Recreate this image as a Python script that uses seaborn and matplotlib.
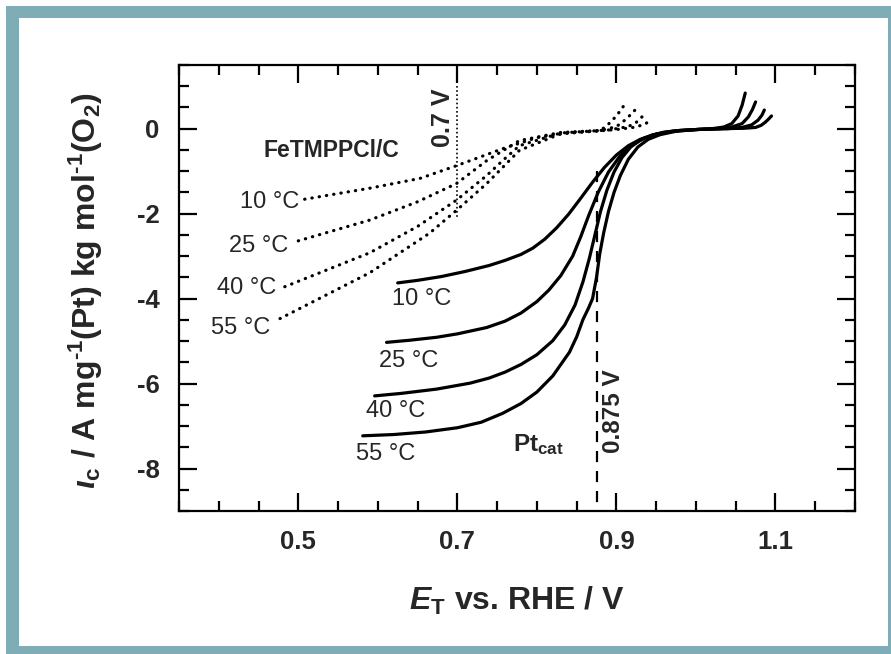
import matplotlib
matplotlib.use("Agg")
import matplotlib.pyplot as plt
from matplotlib.patches import Rectangle
from matplotlib.ticker import MultipleLocator
import seaborn as sns

# Pt_cat, solid curves (E / V, i / A mg-1 kg mol-1)
pt_10_x = [0.625, 0.65, 0.68, 0.71, 0.74, 0.76, 0.78, 0.795, 0.81, 0.825, 0.84, 0.855, 0.87, 0.885, 0.90, 0.915, 0.93, 0.945, 0.96, 0.98, 1.00, 1.02, 1.035, 1.045, 1.053, 1.058, 1.062]
pt_10_y = [-3.63, -3.57, -3.48, -3.36, -3.22, -3.10, -2.96, -2.81, -2.60, -2.33, -2.01, -1.64, -1.26, -0.91, -0.62, -0.40, -0.25, -0.15, -0.09, -0.04, -0.02, 0.0, 0.04, 0.12, 0.30, 0.55, 0.84]

pt_25_x = [0.611, 0.64, 0.674, 0.70, 0.737, 0.76, 0.78, 0.80, 0.815, 0.83, 0.845, 0.855, 0.865, 0.877, 0.89, 0.905, 0.92, 0.935, 0.95, 0.97, 1.00, 1.03, 1.045, 1.058, 1.066, 1.071, 1.075]
pt_25_y = [-5.03, -4.98, -4.91, -4.83, -4.68, -4.53, -4.34, -4.07, -3.80, -3.46, -3.00, -2.55, -2.05, -1.50, -1.02, -0.63, -0.38, -0.22, -0.13, -0.06, -0.02, 0.0, 0.04, 0.12, 0.28, 0.45, 0.63]

pt_40_x = [0.596, 0.63, 0.674, 0.716, 0.74, 0.76, 0.78, 0.80, 0.82, 0.835, 0.848, 0.858, 0.866, 0.873, 0.880, 0.888, 0.897, 0.907, 0.918, 0.93, 0.945, 0.96, 0.98, 1.01, 1.04, 1.058, 1.07, 1.078, 1.083, 1.086]
pt_40_y = [-6.29, -6.23, -6.13, -5.99, -5.87, -5.73, -5.55, -5.32, -4.99, -4.62, -4.15, -3.60, -3.05, -2.50, -1.95, -1.45, -1.02, -0.68, -0.43, -0.27, -0.15, -0.08, -0.04, -0.01, 0.0, 0.03, 0.09, 0.20, 0.32, 0.44]

pt_55_x = [0.581, 0.62, 0.66, 0.70, 0.73, 0.757, 0.78, 0.80, 0.82, 0.841, 0.850, 0.858, 0.865, 0.870, 0.875, 0.879, 0.884, 0.890, 0.897, 0.905, 0.915, 0.927, 0.94, 0.955, 0.975, 1.00, 1.03, 1.06, 1.075, 1.082, 1.087, 1.091, 1.095]
pt_55_y = [-7.23, -7.20, -7.14, -7.04, -6.91, -6.70, -6.47, -6.20, -5.82, -5.26, -4.90, -4.49, -4.22, -4.00, -3.50, -2.95, -2.45, -1.95, -1.50, -1.10, -0.72, -0.43, -0.25, -0.14, -0.06, -0.02, 0.0, 0.01, 0.03, 0.08, 0.15, 0.22, 0.30]

# FeTMPPCl/C, dotted curves
fe_10_x = [0.508, 0.59, 0.653, 0.699, 0.757, 0.80, 0.841, 0.879, 0.888, 0.900, 0.912]
fe_10_y = [-1.66, -1.40, -1.17, -0.87, -0.47, -0.21, -0.09, -0.05, 0.07, 0.30, 0.61]

fe_25_x = [0.50, 0.59, 0.65, 0.699, 0.737, 0.778, 0.829, 0.88, 0.900, 0.912, 0.925]
fe_25_y = [-2.64, -2.15, -1.72, -1.29, -0.75, -0.28, -0.09, -0.04, 0.05, 0.22, 0.47]

fe_40_x = [0.483, 0.59, 0.65, 0.699, 0.737, 0.757, 0.778, 0.83, 0.89, 0.915, 0.925, 0.935]
fe_40_y = [-3.72, -2.92, -2.30, -1.68, -1.10, -0.75, -0.40, -0.10, -0.03, 0.05, 0.15, 0.33]

fe_55_x = [0.477, 0.59, 0.665, 0.699, 0.737, 0.757, 0.778, 0.83, 0.90, 0.925, 0.937, 0.944]
fe_55_y = [-4.47, -3.39, -2.46, -1.92, -1.29, -0.91, -0.51, -0.12, -0.02, 0.04, 0.12, 0.23]

temps = ["10 °C", "25 °C", "40 °C", "55 °C"]
pt_label_pos = [(0.655, -4.0), (0.639, -5.47), (0.623, -6.64), (0.610, -7.65)]
fe_label_pos = [(0.464, -1.73), (0.450, -2.76), (0.435, -3.74), (0.428, -4.70)]

sns.set_style("ticks")
plt.rcParams['font.family'] = ['Liberation Sans', 'DejaVu Sans']
plt.rcParams['mathtext.fontset'] = 'custom'
plt.rcParams['mathtext.rm'] = 'Liberation Sans:bold'
plt.rcParams['mathtext.it'] = 'Liberation Sans:italic:bold'
plt.rcParams['mathtext.bf'] = 'Liberation Sans:bold'
plt.rcParams['axes.unicode_minus'] = False

fig = plt.figure(figsize=(8.91, 6.54), dpi=100, facecolor='white')

# teal picture frame
teal = '#7FADB7'
fig.patches.append(Rectangle((6 / 891, 0), 1, 648 / 654, transform=fig.transFigure,
                             facecolor=teal, edgecolor='none', zorder=-10))
fig.patches.append(Rectangle((19 / 891, 8 / 654), 869 / 891, 628 / 654, transform=fig.transFigure,
                             facecolor='white', edgecolor='none', zorder=-9))

ax = fig.add_axes([179 / 891, 1 - 511 / 654, 676 / 891, 446 / 654])
ax.set_facecolor('none')

pt_curves = [(pt_10_x, pt_10_y), (pt_25_x, pt_25_y), (pt_40_x, pt_40_y), (pt_55_x, pt_55_y)]
fe_curves = [(fe_10_x, fe_10_y), (fe_25_x, fe_25_y), (fe_40_x, fe_40_y), (fe_55_x, fe_55_y)]

for x, y in pt_curves:
    sns.lineplot(x=x, y=y, ax=ax, color='black', lw=2.3, sort=False, estimator=None,
                 solid_joinstyle='round')
for x, y in fe_curves:
    sns.lineplot(x=x, y=y, ax=ax, color='black', lw=2.3, sort=False, estimator=None,
                 linestyle=(0, (0.1, 2.2)), dash_capstyle='round')

# marker lines
ax.plot([0.7, 0.7], [1.0, -2.1], color='black', lw=1.2, linestyle=(0, (1, 1.5)))
ax.plot([0.875, 0.875], [-1.0, -9.0], color='black', lw=1.6, linestyle=(0, (5, 4)))

for t, (lx, ly) in zip(temps, pt_label_pos):
    ax.text(lx, ly, t, fontsize=17, ha='center', va='center')
for t, (lx, ly) in zip(temps, fe_label_pos):
    ax.text(lx, ly, t, fontsize=17, ha='center', va='center')

ax.text(0.542, -0.51, "FeTMPPCl/C", fontsize=16.5, fontweight='bold', ha='center', va='center')
ax.text(0.682, 0.26, "0.7 V", fontsize=18, fontweight='bold', rotation=90, ha='center', va='center')
ax.text(0.896, -6.66, "0.875 V", fontsize=17.5, fontweight='bold', rotation=90, ha='center', va='center')
ax.text(0.802, -7.6, r"Pt$_{\rm cat}$", fontsize=17.5, fontweight='bold', ha='center', va='baseline')

ax.set_xlim(0.35, 1.2)
ax.set_ylim(-9.0, 1.5)
ax.xaxis.set_minor_locator(MultipleLocator(0.05))
ax.set_xticks([0.5, 0.7, 0.9, 1.1])
ax.yaxis.set_minor_locator(MultipleLocator(0.5))
ax.set_yticks([-8, -6, -4, -2, 0])
ax.set_xticklabels(["0.5", "0.7", "0.9", "1.1"])
ax.set_yticklabels(["-8", "-6", "-4", "-2", "0"])

ax.tick_params(which='both', direction='in', top=True, right=True, width=1.6, color='black')
ax.tick_params(which='major', length=13, pad=14, labelsize=18.5)
ax.tick_params(which='minor', length=7)
for lab in ax.get_xticklabels() + ax.get_yticklabels():
    lab.set_fontweight('bold')
for sp in ax.spines.values():
    sp.set_linewidth(1.6)
    sp.set_color('black')

ax.set_xlabel(r"$E$$_{\rm T}$ vs. RHE / V", fontsize=23, fontweight='bold')
ax.xaxis.set_label_coords(0.5, -0.165)
ax.set_ylabel("$\\iota_{\\rm c}$ / A mg$^{\\rm \u2010 1}$(Pt) kg mol$^{\\rm \u2010 1}$(O$_{\\rm 2}$)",
              fontsize=23, fontweight='bold')
ax.yaxis.set_label_coords(-0.11, 0.493)

plt.savefig("out.png", dpi=100, facecolor='white')
